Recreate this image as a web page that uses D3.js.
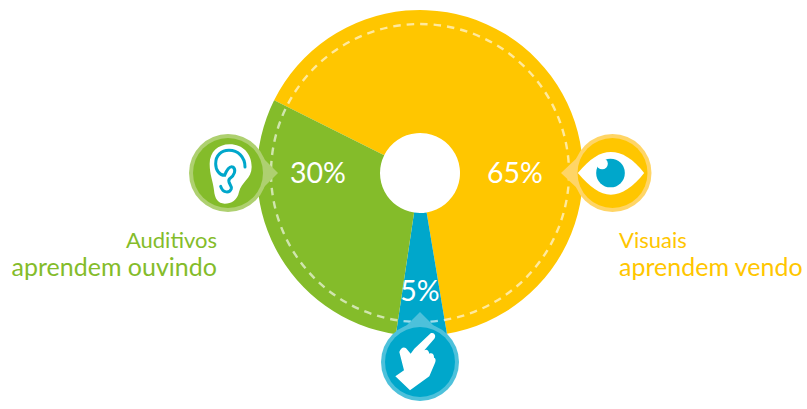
<!DOCTYPE html>
<html>
<head>
<meta charset="utf-8">
<script src="https://cdn.jsdelivr.net/npm/d3@7/dist/d3.min.js"></script>
<style>
  html, body { margin: 0; padding: 0; background: #fff; }
  svg { display: block; }
  text { font-family: Lato, "Open Sans", sans-serif; }
</style>
</head>
<body>
<svg id="chart" width="807" height="409"></svg>
<script>
// Learning styles: share of people per style
const categories = ["Visuais", "Cinestésicos", "Auditivos"];
const shares = [65, 5, 30];
const shareLabels = ["65%", "5%", "30%"];
const sliceColors = ["#ffc600", "#00a7cb", "#84bc2a"];
const ringColors = ["#ffd566", "#4dc1db", "#aed070"];
const captionLines = [["Visuais", "aprendem vendo"], null, ["Auditivos", "aprendem ouvindo"]];

const cx = 420, cy = 173, outerR = 163, innerR = 40, dashR = 149;
const badgeR = 39, badgeInnerR = 35;

const svg = d3.select("#chart");

const pie = d3.pie().sort(null).value(d => d)
  .startAngle(-63.5 * Math.PI / 180)
  .endAngle(296.5 * Math.PI / 180);
const arc = d3.arc().innerRadius(innerR).outerRadius(outerR);
const slices = pie(shares);

svg.append("g").attr("transform", `translate(${cx},${cy})`)
  .selectAll("path").data(slices).join("path")
  .attr("d", arc)
  .attr("fill", (d, i) => sliceColors[i]);

// dashed guide ring running through all slices
svg.append("circle")
  .attr("cx", cx).attr("cy", cy).attr("r", dashR)
  .attr("fill", "none")
  .attr("stroke", "#fff").attr("stroke-opacity", 0.62)
  .attr("stroke-width", 2.4)
  .attr("stroke-dasharray", "7.5 6");

// percentage labels
const valuePos = [[515, 183], [420, 301], [318, 183]];
svg.append("g").selectAll("text").data(shareLabels).join("text")
  .attr("x", (d, i) => valuePos[i][0])
  .attr("y", (d, i) => valuePos[i][1])
  .attr("text-anchor", "middle")
  .attr("fill", "#fff")
  .attr("font-size", 28.5)
  .text(d => d);

// badge with a pointer toward the chart
function badge(i, x, y, tipDx, tipDy, drawIcon) {
  const g = svg.append("g").attr("transform", `translate(${x},${y})`);
  const nx = tipDx === 0 ? 1 : 0, ny = tipDy === 0 ? 1 : 0;
  const sx = Math.sign(tipDx), sy = Math.sign(tipDy);
  const base = 26;
  g.append("path")
    .attr("d", `M${tipDx},${tipDy}L${sx * 24 + nx * base},${sy * 24 + ny * base}L${sx * 24 - nx * base},${sy * 24 - ny * base}Z`)
    .attr("fill", ringColors[i]);
  g.append("circle").attr("r", badgeR).attr("fill", ringColors[i]);
  g.append("circle").attr("r", badgeInnerR).attr("fill", sliceColors[i]);
  drawIcon(g.append("g"));
}

// eye icon
badge(0, 612.5, 173, -51.5, 0, g => {
  g.attr("transform", "scale(0.3333) translate(-188,-158)");
  g.append("path")
    .attr("d", "M84,158C120,115 150,95 183,95C216,95 250,115 283,158C250,200 216,223 183,223C150,223 120,200 84,158Z")
    .attr("fill", "#fff");
  g.append("circle").attr("cx", 182).attr("cy", 158).attr("r", 43).attr("fill", sliceColors[1]);
  g.append("circle").attr("cx", 157).attr("cy", 130).attr("r", 17).attr("fill", "#fff");
});

// pointing hand icon
badge(1, 420, 362, 0, -50, g => {
  g.attr("transform", "scale(0.3333) translate(-150,-275)");
  g.append("path")
    .attr("d", "M182,189C192,184 200,196 193,205L163,240C170,236 176,240 178,250C186,246 193,252 192,262C198,264 198,272 194,280L178,318L120,360L76,318L102,300L88,245C92,232 104,226 112,238L122,250L133,235Z")
    .attr("fill", "#fff");
});

// ear icon
badge(2, 228, 173, 50, 0, g => {
  g.attr("transform", "scale(0.3333) translate(-175,-158)");
  g.append("path")
    .attr("d", "M120,130C120,95 145,72 180,72C220,72 246,100 246,140C246,175 215,185 208,215C203,240 185,250 165,250C145,250 135,235 133,210C130,180 120,165 120,130Z")
    .attr("fill", "#fff");
  g.append("path")
    .attr("d", "M226,140C226,110 205,90 178,90C155,90 138,105 138,130C138,150 150,165 165,165C170,150 180,135 190,140C200,148 195,165 180,175C170,185 188,195 185,205C180,218 160,220 153,198")
    .attr("fill", "none").attr("stroke", sliceColors[1]).attr("stroke-width", 9).attr("stroke-linecap", "round");
});

// captions beside the badges
const captionPos = [[619, "start"], null, [217, "end"]];
captionLines.forEach((lines, i) => {
  if (!lines) return;
  lines.forEach((line, k) => {
    svg.append("text")
      .attr("x", captionPos[i][0])
      .attr("y", k === 0 ? 248 : 276)
      .attr("text-anchor", captionPos[i][1])
      .attr("fill", sliceColors[i])
      .attr("font-size", k === 0 ? 22 : 25)
      .text(line);
  });
});
</script>
</body>
</html>
